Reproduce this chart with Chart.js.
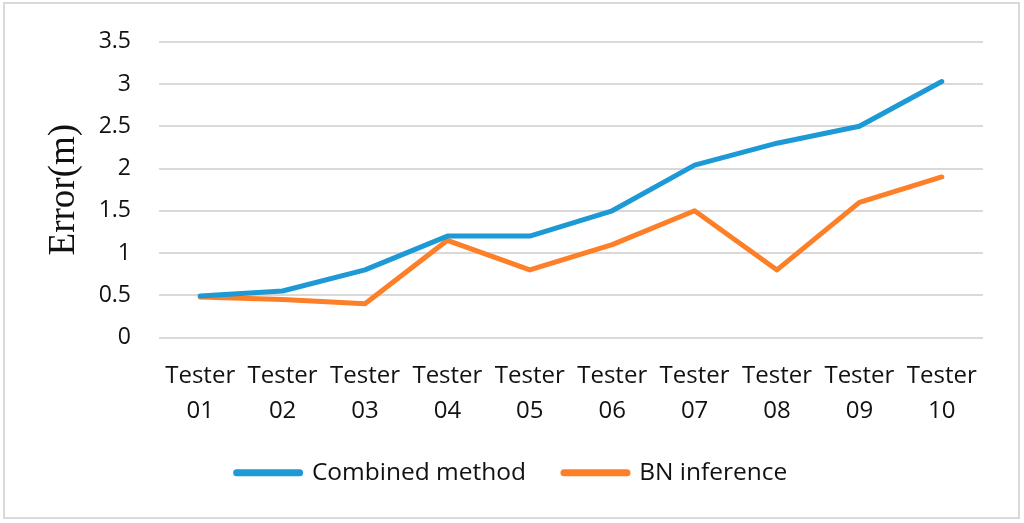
<!DOCTYPE html>
<html>
<head>
<meta charset="utf-8">
<style>
  html, body { margin: 0; padding: 0; background: #fff; }
  #wrap { width: 1024px; height: 523px; position: relative; }
</style>
<script src="https://cdn.jsdelivr.net/npm/chart.js@4.4.1/dist/chart.umd.min.js"></script>
</head>
<body>
<div id="wrap"><canvas id="c" width="1024" height="523"></canvas></div>
<script>
const categories = [
  ["Tester", "01"], ["Tester", "02"], ["Tester", "03"], ["Tester", "04"], ["Tester", "05"],
  ["Tester", "06"], ["Tester", "07"], ["Tester", "08"], ["Tester", "09"], ["Tester", "10"]
];
const combinedMethod = [0.49, 0.55, 0.80, 1.20, 1.20, 1.50, 2.04, 2.30, 2.50, 3.03];
const bnInference    = [0.48, 0.45, 0.40, 1.15, 0.80, 1.10, 1.50, 0.80, 1.60, 1.90];
const seriesNames = ["Combined method", "BN inference"];
const yTicks = [0, 0.5, 1, 1.5, 2, 2.5, 3, 3.5];
const yTickLabels = ["0", "0.5", "1", "1.5", "2", "2.5", "3", "3.5"];
const yTitle = "Error(m)";

const borderPlugin = {
  id: 'outerBorder',
  beforeDraw(chart) {
    const ctx = chart.ctx;
    ctx.save();
    ctx.fillStyle = '#ffffff';
    ctx.fillRect(0, 0, chart.width, chart.height);
    ctx.strokeStyle = '#d9d9d9';
    ctx.lineWidth = 2;
    ctx.strokeRect(4, 3, 1015, 515);
    ctx.restore();
  }
};

new Chart(document.getElementById('c'), {
  type: 'line',
  data: {
    labels: categories,
    datasets: [
      {
        label: seriesNames[0],
        data: combinedMethod,
        borderColor: '#1d9ad6',
        backgroundColor: '#1d9ad6',
        borderWidth: 5,
        pointRadius: 0,
        borderCapStyle: 'round',
        borderJoinStyle: 'round',
        tension: 0
      },
      {
        label: seriesNames[1],
        data: bnInference,
        borderColor: '#fd7f27',
        backgroundColor: '#fd7f27',
        borderWidth: 5,
        pointRadius: 0,
        borderCapStyle: 'round',
        borderJoinStyle: 'round',
        tension: 0
      }
    ]
  },
  options: {
    responsive: false,
    animation: false,
    devicePixelRatio: 1,
    layout: { padding: { left: 0, right: 0, top: 37, bottom: 28 } },
    plugins: {
      legend: {
        position: 'bottom',
        labels: {
          usePointStyle: true,
          pointStyle: 'line',
          pointStyleWidth: 63,
          boxHeight: 6,
          padding: 38,
          color: '#111',
          font: { family: "'Open Sans'", size: 24.5 },
          generateLabels(chart) {
            const items = Chart.defaults.plugins.legend.labels.generateLabels(chart);
            items.forEach(it => { it.lineWidth = 7; it.lineCap = 'round'; });
            return items;
          }
        }
      },
      tooltip: { enabled: false }
    },
    scales: {
      x: {
        offset: true,
        grid: { display: false, drawTicks: false },
        border: { display: false },
        ticks: {
          color: '#111',
          padding: 21,
          maxRotation: 0,
          autoSkip: false,
          font: { family: "'Open Sans'", size: 24, lineHeight: 1.45 }
        },
        afterFit(scale) { scale.height = 85; }
      },
      y: {
        min: 0,
        max: 3.5,
        afterBuildTicks(scale) { scale.ticks = yTicks.map(v => ({ value: v })); },
        grid: { color: '#d9d9d9', lineWidth: 2, drawTicks: false },
        border: { display: false },
        ticks: {
          color: '#111',
          padding: 28,
          font: { family: "'Open Sans'", size: 23 },
          callback(value, index) { return yTickLabels[index]; }
        },
        title: {
          display: true,
          text: yTitle,
          color: '#111',
          padding: { top: 42, bottom: 0 },
          font: { family: "'Liberation Serif'", size: 37, lineHeight: 1.2 }
        },
        afterFit(scale) { scale.width = 159; }
      },
      yRight: {
        position: 'right',
        display: true,
        grid: { display: false, drawTicks: false },
        border: { display: false },
        ticks: { display: false },
        afterFit(scale) { scale.width = 41; }
      }
    }
  },
  plugins: [borderPlugin]
});
</script>
</body>
</html>
